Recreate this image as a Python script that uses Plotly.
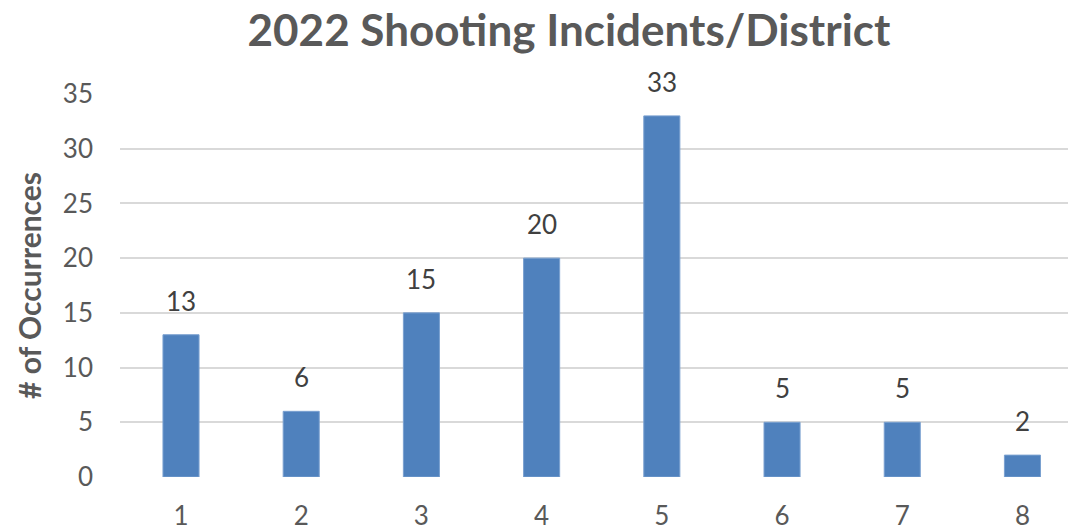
import plotly.graph_objects as go

districts = [1, 2, 3, 4, 5, 6, 7, 8]
occurrences = [13, 6, 15, 20, 33, 5, 5, 2]
y_ticks = [0, 5, 10, 15, 20, 25, 30, 35]

title_text = "2022 Shooting Incidents/District"
y_title = "# of Occurrences"

grey = "#595959"
bar_color = "#4F81BD"

fig = go.Figure()
fig.add_trace(go.Bar(
    x=districts, y=occurrences, width=0.3,
    marker=dict(color=bar_color, line=dict(color="#7aa0d0", width=1)),
    hoverinfo="x+y",
))

for d, v in zip(districts, occurrences):
    fig.add_annotation(x=d, y=v, text=str(v), showarrow=False,
                       yanchor="middle", yshift=34,
                       font=dict(family="Lato", size=26, color="#404040"))

fig.update_layout(
    width=1076, height=531,
    margin=dict(l=112, r=0, t=86, b=62),
    paper_bgcolor="white", plot_bgcolor="white",
    showlegend=False,
    title=dict(text=title_text, x=561 / 1076, xanchor="center", xref="container",
               y=1 - 23 / 531, yanchor="middle", yref="container",
               font=dict(family="Lato", size=44, color=grey, weight="bold")),
    xaxis=dict(range=[0.4925, 8.512], tickvals=districts,
               ticktext=[str(d) for d in districts],
               showgrid=False, zeroline=False, showline=False,
               tickfont=dict(family="Lato", size=26, color=grey),
               ticklabelstandoff=21),
    yaxis=dict(range=[0, 35], tickvals=y_ticks, showgrid=True,
               gridcolor="#d9d9d9", gridwidth=1.5, zeroline=False,
               showline=False,
               tickfont=dict(family="Lato", size=26, color=grey),
               ticklabelstandoff=26,
               title=dict(text=y_title, standoff=12,
                          font=dict(family="Lato", size=30, color=grey,
                                    weight="bold"))),
)

fig.write_html("out.html")
